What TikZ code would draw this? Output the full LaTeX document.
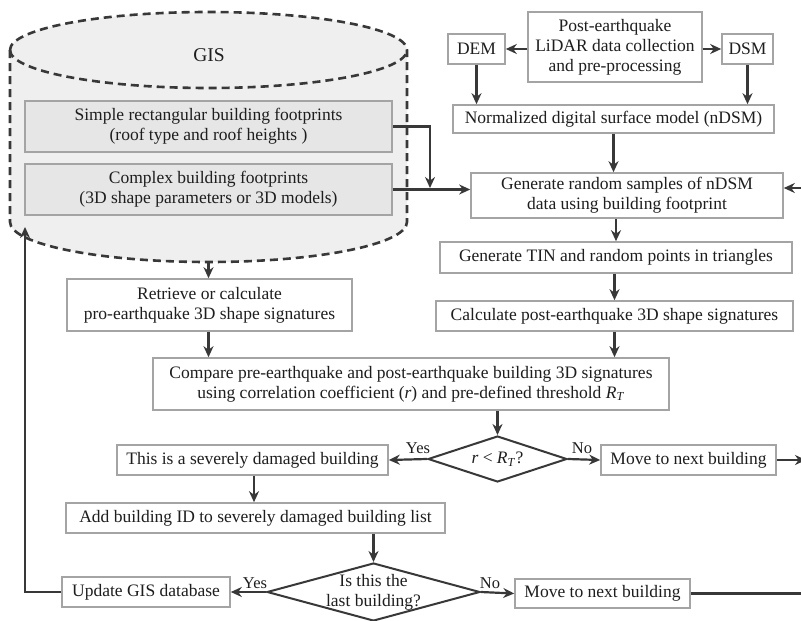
\documentclass[tikz,border=0pt]{standalone}
\usepackage{fontspec}
\setmainfont{Liberation Serif}
\usetikzlibrary{shapes.geometric,arrows.meta,positioning,calc}
\definecolor{fcLine}{HTML}{383838}
\definecolor{fcRule}{HTML}{A4A4A4}
\definecolor{fcGis}{HTML}{EFEFEF}
\definecolor{fcShade}{HTML}{E6E6E6}
\definecolor{fcText}{HTML}{1E1E1E}

\begin{document}
\begin{tikzpicture}[x=1pt,y=-1pt,font=\fontsize{17.5}{20}\selectfont,text=fcText,
  b/.style={draw=fcRule,fill=white,line width=1.6pt,align=center,inner sep=2pt},
  g/.style={b,fill=fcShade},
  d/.style={diamond,draw=fcLine,fill=white,line width=2pt,inner sep=0pt},
  a/.style={-{Stealth[length=11pt,width=10pt]},fcLine,line width=2.2pt},
  gis/.style={draw=fcLine,dash pattern=on 8pt off 5pt,line width=2.6pt},
  lab/.style={font=\fontsize{16.5}{18}\selectfont,inner sep=1pt}]
\useasboundingbox[fill=white] (0,0) rectangle (801,621);
\fill[fcGis] (10,50) -- (10,222) arc[start angle=180,end angle=360,x radius=198.5pt,y radius=40pt]
  -- (407,50) arc[start angle=0,end angle=180,x radius=198.5pt,y radius=38pt] -- cycle;
\node[g,minimum width=367pt,minimum height=51pt] (simp) at (208.5,126.5) {Simple rectangular building footprints\\(roof type and roof heights )};
\node[g,minimum width=367pt,minimum height=51pt] (cplx) at (208.5,189.5) {Complex building footprints\\(3D shape parameters or 3D models)};
\draw[gis] (10,50) -- (10,222) arc[start angle=180,end angle=360,x radius=198.5pt,y radius=40pt]
  -- (407,50) arc[start angle=0,end angle=180,x radius=198.5pt,y radius=38pt];
\draw[gis] (10,50) arc[start angle=180,end angle=360,x radius=198.5pt,y radius=38pt];
\node[font=\fontsize{19.5}{22}\selectfont] (gis) at (209,55) {GIS};
\coordinate (gisout) at (208.5,262);
\coordinate (gisin) at (25,227);
\coordinate (jn) at (430,188);

\node[b,minimum width=174pt,minimum height=70pt] (post) at (615,47) {Post-earthquake\\LiDAR data collection\\and pre-processing};
\node[b,minimum width=57pt,minimum height=30pt] (dem) at (476.5,49) {DEM};
\node[b,minimum width=51pt,minimum height=30pt] (dsm) at (747.5,49) {DSM};
\node[b,minimum width=321pt,minimum height=28pt] (ndsm) at (613.5,119) {Normalized digital surface model (nDSM)};
\node[b,minimum width=312pt,minimum height=45pt] (gen) at (627,195.5) {Generate random samples of nDSM\\data using building footprint};
\node[b,minimum width=352pt,minimum height=31pt] (tin) at (616,257.5) {Generate TIN and random points in triangles};
\node[b,minimum width=357pt,minimum height=30pt] (calc) at (614.5,316) {Calculate post-earthquake 3D shape signatures};
\node[b,minimum width=285pt,minimum height=52pt] (retr) at (209.5,305) {Retrieve or calculate\\pro-earthquake 3D shape signatures};
\node[b,minimum width=516pt,minimum height=52pt] (comp) at (411,384) {Compare pre-earthquake and post-earthquake building 3D signatures\\using correlation coefficient (\textit{r}) and pre-defined threshold \textit{R}\textsubscript{\textit{T}}};
\node[d,minimum width=139pt,minimum height=46pt,label={center:\textit{r} < \textit{R}\textsubscript{\textit{T}}?}] (dia1) at (497.5,459) {};
\node[b,minimum width=271pt,minimum height=30pt] (sev) at (252.5,460) {This is a severely damaged building};
\node[b,minimum width=175pt,minimum height=30pt] (move1) at (688.5,460) {Move to next building};
\node[b,minimum width=379pt,minimum height=30pt] (add) at (255.5,518) {Add building ID to severely damaged building list};
\node[d,minimum width=213pt,minimum height=58pt,label={[align=center]center:Is this the\\last building?}] (dia2) at (373.5,592) {};
\node[b,minimum width=168pt,minimum height=30pt] (upd) at (146,592) {Update GIS database};
\node[b,minimum width=175pt,minimum height=29pt] (move2) at (602.5,593.5) {Move to next building};
\coordinate (rt) at (806,188);
\coordinate (rb) at (806,593.5);

\draw[a] (post.west |- dem) -- (dem.east);
\draw[a] (post.east |- dsm) -- (dsm.west);
\draw[a] (dem) -- (dem |- ndsm.north);
\draw[a] (dsm) -- (dsm |- ndsm.north);
\draw[a] (ndsm) -- (ndsm |- gen.north);
\draw[a] (simp.east) -| (jn);
\draw[a] (cplx.east) -- (cplx.east -| gen.west);
\draw[a] (gen.south -| tin) -- (tin.north);
\draw[a] (tin.south -| calc) -- (calc.north);
\draw[a] (calc) -- (calc |- comp.north);
\draw[a] (gisout) -- (gisout |- retr.north);
\draw[a] (gisout |- retr.south) -- (gisout |- comp.north);
\draw[a] (comp.south -| dia1) -- (dia1.north);
\draw[a] (dia1.west) -- (sev.east);
\draw[a] (dia1.east) -- (move1.west);
\draw[a] (move1.east) -- (move1.east -| rb);
\draw[a] (sev.south -| 254,0) -- (add.north -| 254,0);
\draw[a] (add.south -| dia2) -- (dia2.north);
\draw[a] (dia2.west) -- (upd.east);
\draw[a] (dia2.east) -- (move2.west);
\draw[a] (upd.west) -| (gisin);
\draw[a] (move2.east) -- (rb) -- (rt) -- (rt -| gen.east);

\node[lab,above=4pt of dia1.west,xshift=-9pt] {Yes};
\node[lab,above=4pt of dia1.east,xshift=14pt] {No};
\node[lab,above=2pt of dia2.west,xshift=-11pt] {Yes};
\node[lab,above=2pt of dia2.east,xshift=9pt] {No};
\end{tikzpicture}
\end{document}
